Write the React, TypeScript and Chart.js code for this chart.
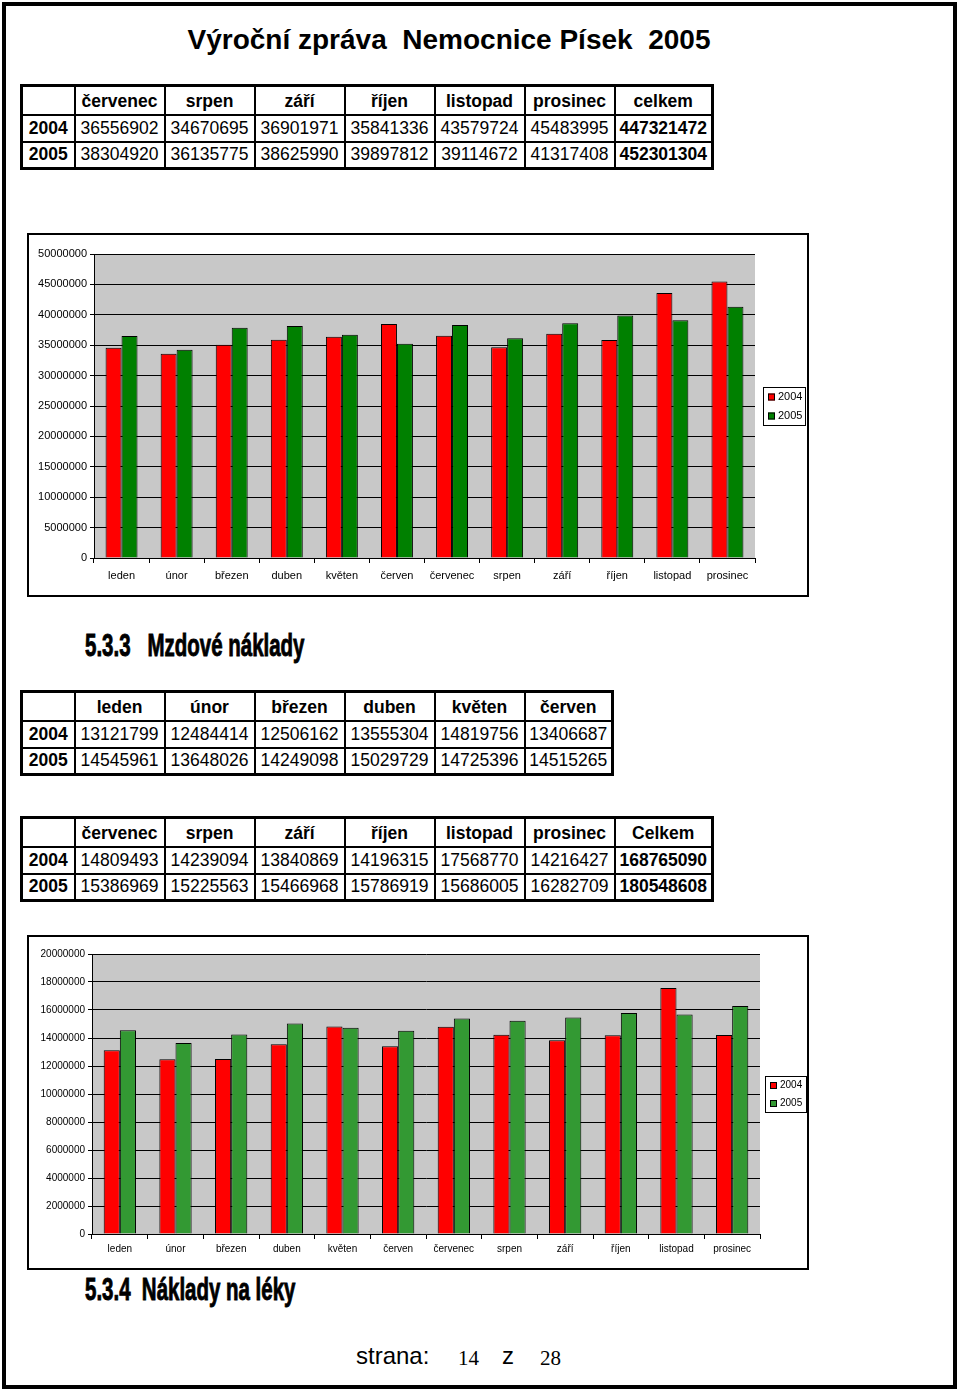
import React, { useEffect, useRef } from "react";
import { Chart, registerables } from "chart.js";

Chart.register(...registerables);

// ---------- data ----------
const months = ["leden", "únor", "březen", "duben", "květen", "červen", "červenec", "srpen", "září", "říjen", "listopad", "prosinec"];
const seriesLabels = ["2004", "2005"];

// chart 1 (upper, months Jan-Jun, Jul-Dec from table)
const costs2004 = [34590000, 33600000, 35080000, 35900000, 36400000, 38490000, 36556902, 34670695, 36901971, 35841336, 43579724, 45483995];
const costs2005 = [36510000, 34260000, 37880000, 38160000, 36730000, 35250000, 38304920, 36135775, 38625990, 39897812, 39114672, 41317408];
const costsTotal = ["447321472", "452301304"];

// chart 2 wages (5.3.3)
const wages2004 = [13121799, 12484414, 12506162, 13555304, 14819756, 13406687, 14809493, 14239094, 13840869, 14196315, 17568770, 14216427];
const wages2005 = [14545961, 13648026, 14249098, 15029729, 14725396, 14515265, 15386969, 15225563, 15466968, 15786919, 15686005, 16282709];
const wagesTotal = ["168765090", "180548608"];

const axis1 = { max: 50000000, step: 5000000 };
const axis2 = { max: 20000000, step: 2000000 };

const FONT = "'Liberation Sans', Arial, Helvetica, sans-serif";

// ---------- plugins ----------
const bgPlugin = {
  id: "plotBg",
  beforeDraw(chart: any, _a: any, opts: any) {
    const { ctx, chartArea } = chart;
    ctx.save();
    ctx.fillStyle = opts.color || "#c8c8c8";
    ctx.fillRect(chartArea.left, chartArea.top, chartArea.right - chartArea.left, chartArea.bottom - chartArea.top);
    ctx.restore();
  },
};

const boxLegend = {
  id: "boxLegend",
  afterDraw(chart: any, _a: any, opts: any) {
    const { ctx, chartArea } = chart;
    const ds = chart.data.datasets;
    const w = opts.width, rowH = opts.rowH;
    const h = rowH * ds.length;
    const x = chartArea.right + opts.gap;
    const y = (chartArea.top + chartArea.bottom) / 2 - h / 2;
    ctx.save();
    ctx.fillStyle = "#fff";
    ctx.fillRect(x, y, w, h);
    ctx.strokeStyle = "#000";
    ctx.lineWidth = 1;
    ctx.strokeRect(x + 0.5, y + 0.5, w, h);
    ctx.font = `${opts.fontSize}px ${FONT}`;
    ctx.textBaseline = "middle";
    ds.forEach((d: any, i: number) => {
      const cy = y + rowH * i + rowH / 2 + 0.5;
      ctx.fillStyle = d.backgroundColor;
      ctx.fillRect(x + 5, cy - 3.5, 7, 7);
      ctx.strokeStyle = "#000";
      ctx.strokeRect(x + 5.5, cy - 3, 6, 6);
      ctx.fillStyle = "#000";
      ctx.fillText(d.label, x + 15, cy);
    });
    ctx.restore();
  },
};

type BarCfg = {
  a: number[];
  b: number[];
  colors: string[];
  axis: { max: number; step: number };
  width: number;
  height: number;
  yWidth: number;
  xHeight: number;
  padTop: number;
  padRight: number;
  fontSize: number;
  legendW: number;
  legendGap: number;
  legendRow: number;
  labelPad: number;
};

function BarChart(p: BarCfg) {
  const ref = useRef<HTMLCanvasElement>(null);
  useEffect(() => {
    const chart = new Chart(ref.current as HTMLCanvasElement, {
      type: "bar",
      data: {
        labels: months,
        datasets: [
          { label: seriesLabels[0], data: p.a, backgroundColor: p.colors[0], borderColor: "#000", borderWidth: 1, categoryPercentage: 0.58, barPercentage: 1 },
          { label: seriesLabels[1], data: p.b, backgroundColor: p.colors[1], borderColor: "#000", borderWidth: 1, categoryPercentage: 0.58, barPercentage: 1 },
        ],
      },
      options: {
        responsive: false,
        animation: false,
        devicePixelRatio: 1,
        layout: { padding: { top: p.padTop, right: p.padRight, left: 0, bottom: 0 } },
        plugins: {
          legend: { display: false },
          tooltip: { enabled: false },
          plotBg: { color: "#c8c8c8" },
          boxLegend: { width: p.legendW, gap: p.legendGap, rowH: p.legendRow, fontSize: p.fontSize },
        } as any,
        scales: {
          x: {
            offset: true,
            grid: { offset: true, drawOnChartArea: false, color: "#000", tickLength: 5 },
            border: { color: "#000", width: 1 },
            ticks: { color: "#000", font: { family: FONT, size: p.fontSize }, padding: p.labelPad, maxRotation: 0, autoSkip: false },
            afterFit: (s: any) => { s.height = p.xHeight; },
          },
          y: {
            min: 0,
            max: p.axis.max,
            grid: { color: "#000", tickLength: 4 },
            border: { color: "#000", width: 1 },
            ticks: { stepSize: p.axis.step, color: "#000", font: { family: FONT, size: p.fontSize }, padding: 3, callback: (v: any) => String(v) },
            afterFit: (s: any) => { s.width = p.yWidth; },
          },
        },
      },
      plugins: [bgPlugin, boxLegend],
    } as any);
    return () => chart.destroy();
  }, []);
  return <canvas ref={ref} width={p.width} height={p.height} style={{ width: p.width, height: p.height, display: "block" }} />;
}

// ---------- tables ----------
function DataTable(props: { left: number; top: number; heads: string[]; rows: string[][]; totals?: string[]; widths: number[] }) {
  const cell: React.CSSProperties = { border: "2px solid #000", padding: 0, textAlign: "center", verticalAlign: "middle", overflow: "hidden", whiteSpace: "nowrap" };
  return (
    <table
      style={{
        position: "absolute",
        left: props.left,
        top: props.top,
        borderCollapse: "collapse",
        tableLayout: "fixed",
        border: "3px solid #000",
        fontFamily: FONT,
        fontSize: 17.5,
        color: "#000",
        width: props.widths.reduce((s, w) => s + w, 0),
      }}
    >
      <colgroup>
        {props.widths.map((w, i) => (
          <col key={i} style={{ width: w }} />
        ))}
      </colgroup>
      <tbody>
        <tr style={{ height: 29 }}>
          <td style={cell}></td>
          {props.heads.map((h) => (
            <td key={h} style={{ ...cell, fontWeight: "bold", paddingTop: 2 }}>{h}</td>
          ))}
        </tr>
        {props.rows.map((r, ri) => (
          <tr key={ri} style={{ height: 27 }}>
            <td style={{ ...cell, fontWeight: "bold" }}>{seriesLabels[ri]}</td>
            {r.map((v, ci) => (
              <td key={ci} style={cell}>{v}</td>
            ))}
            {props.totals ? <td style={{ ...cell, fontWeight: "bold" }}>{props.totals[ri]}</td> : null}
          </tr>
        ))}
      </tbody>
    </table>
  );
}

const fmt = (arr: number[]) => arr.map((v) => String(v));

const headingStyle: React.CSSProperties = {
  position: "absolute",
  fontFamily: FONT,
  fontWeight: "bold",
  fontSize: 31,
  color: "#000",
  whiteSpace: "pre",
  lineHeight: 1,
  transform: "scaleX(0.66)",
  transformOrigin: "0 0",
  WebkitTextStroke: "0.9px #000",
};

export default function App() {
  return (
    <div style={{ position: "absolute", left: 0, top: 0, width: 960, height: 1393, background: "#fff" }}>
      {/* page frame */}
      <div style={{ position: "absolute", left: 2, top: 2, width: 955, height: 1387, border: "4px solid #000", boxSizing: "border-box" }} />

      <div style={{ position: "absolute", left: 0, width: 898, top: 23, textAlign: "center", fontFamily: FONT, fontWeight: "bold", fontSize: 28, whiteSpace: "pre", lineHeight: "34px" }}>
        {"Výroční zpráva  Nemocnice Písek  2005"}
      </div>

      <DataTable
        left={20}
        top={84}
        widths={[53, 90, 90, 90, 90, 90, 90, 98]}
        heads={[...months.slice(6), "celkem"]}
        rows={[fmt(costs2004.slice(6)), fmt(costs2005.slice(6))]}
        totals={costsTotal}
      />

      <div style={{ position: "absolute", left: 27, top: 233, width: 782, height: 364, border: "2px solid #000", boxSizing: "border-box" }}>
        <BarChart
          a={costs2004}
          b={costs2005}
          colors={["#ff0000", "#008000"]}
          axis={axis1}
          width={778}
          height={360}
          yWidth={65}
          xHeight={37}
          padTop={19}
          padRight={52}
          fontSize={11}
          legendW={42}
          legendGap={8}
          legendRow={19}
          labelPad={6}
        />
      </div>

      <div style={{ ...headingStyle, left: 85, top: 630 }}>{"5.3.3   Mzdové náklady"}</div>

      <DataTable
        left={20}
        top={690}
        widths={[53, 90, 90, 90, 90, 90, 88]}
        heads={months.slice(0, 6)}
        rows={[fmt(wages2004.slice(0, 6)), fmt(wages2005.slice(0, 6))]}
      />
      <DataTable
        left={20}
        top={816}
        widths={[53, 90, 90, 90, 90, 90, 90, 98]}
        heads={[...months.slice(6), "Celkem"]}
        rows={[fmt(wages2004.slice(6)), fmt(wages2005.slice(6))]}
        totals={wagesTotal}
      />

      <div style={{ position: "absolute", left: 27, top: 935, width: 782, height: 335, border: "2px solid #000", boxSizing: "border-box" }}>
        <BarChart
          a={wages2004}
          b={wages2005}
          colors={["#ff0000", "#339933"]}
          axis={axis2}
          width={778}
          height={331}
          yWidth={63}
          xHeight={34}
          padTop={17}
          padRight={47}
          fontSize={10}
          legendW={41}
          legendGap={5}
          legendRow={18}
          labelPad={4}
        />
      </div>

      <div style={{ ...headingStyle, left: 85, top: 1274 }}>{"5.3.4  Náklady na léky"}</div>

      <div style={{ position: "absolute", left: 356, top: 1342, fontFamily: FONT, fontSize: 24, lineHeight: "28px", whiteSpace: "pre" }}>strana:</div>
      <div style={{ position: "absolute", left: 458, top: 1345, fontFamily: "'Liberation Serif', 'Times New Roman', serif", fontSize: 21, lineHeight: "26px" }}>14</div>
      <div style={{ position: "absolute", left: 502, top: 1342, fontFamily: FONT, fontSize: 24, lineHeight: "28px" }}>z</div>
      <div style={{ position: "absolute", left: 540, top: 1345, fontFamily: "'Liberation Serif', 'Times New Roman', serif", fontSize: 21, lineHeight: "26px" }}>28</div>
    </div>
  );
}
